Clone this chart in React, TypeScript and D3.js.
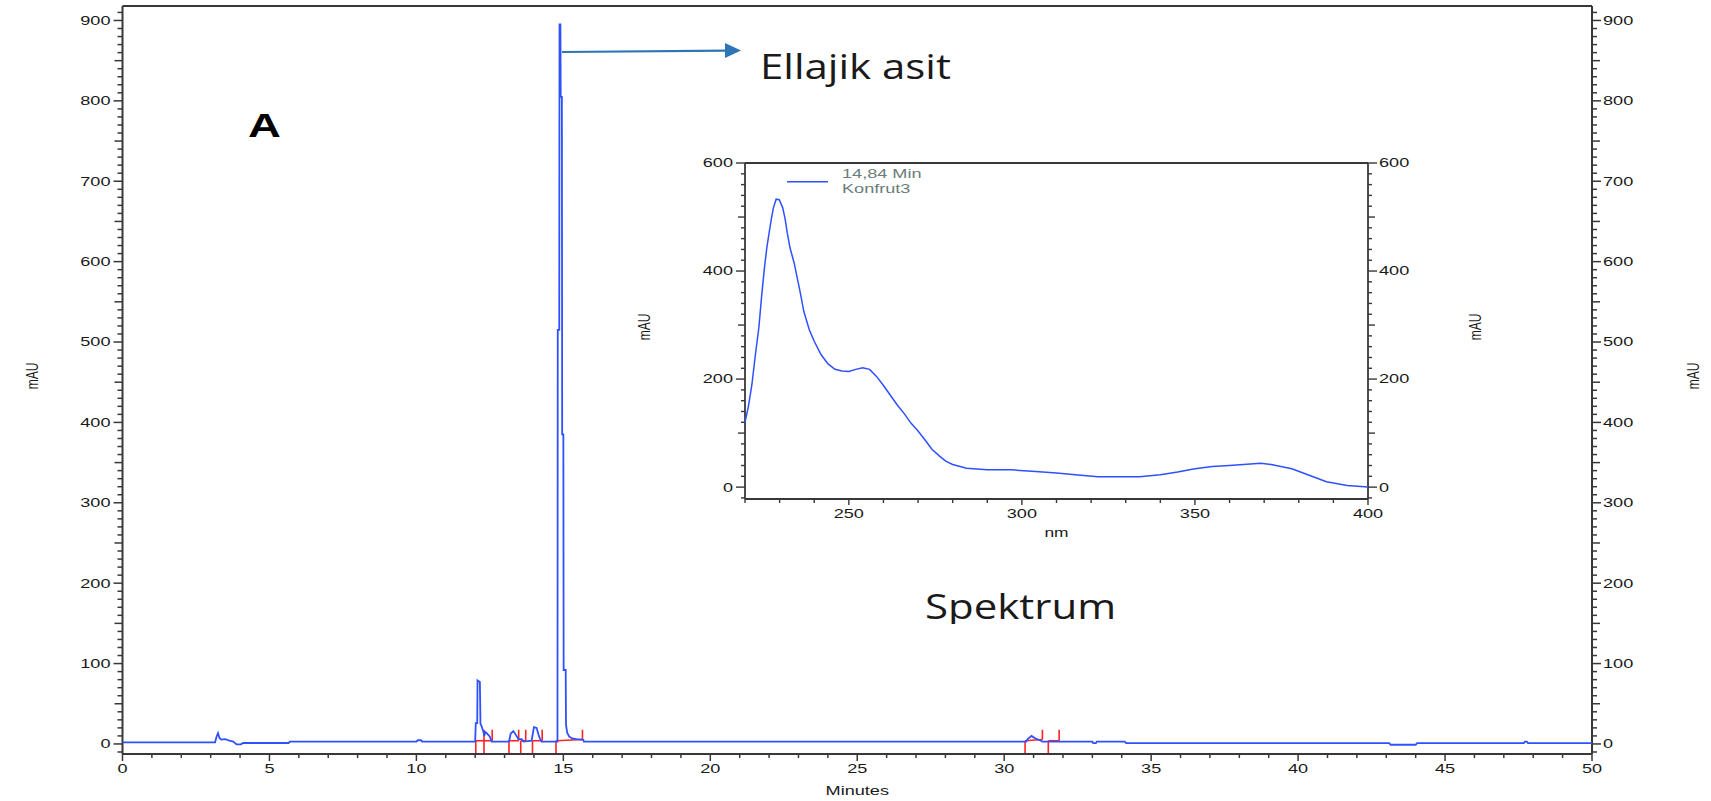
import React from "react";
import * as d3 from "d3";

// ---- Chromatogram (main) ----
const TIME = [0, 3.15, 3.2, 3.25, 3.3, 3.36, 3.5, 3.64, 3.77, 3.88, 4.03, 4.1, 5.65, 5.7, 10.0, 10.05, 10.15, 10.2,
  12.0, 12.02, 12.07, 12.08, 12.16, 12.18, 12.22, 12.28, 12.31, 12.34, 12.4, 12.5, 12.56,
  13.15, 13.21, 13.3, 13.39, 13.47, 13.58, 13.64, 13.92, 14.0, 14.09, 14.15, 14.2, 14.26,
  14.8, 14.81, 14.86, 14.87, 14.9, 14.91, 14.95, 14.96, 15.0, 15.01, 15.08, 15.09, 15.13, 15.2, 15.3, 15.45, 15.68, 15.7,
  30.75, 30.8, 30.93, 31.05, 31.25, 31.3, 33.0, 33.03, 33.12, 33.15, 34.1, 34.15, 43.1, 43.15, 44.0, 44.05,
  47.68, 47.72, 47.78, 47.82, 50];
const ABS = [2, 2, 9, 13.5, 7.5, 5.5, 6, 4, 3, -0.5, -0.5, 1.2, 1.2, 3, 3, 4.6, 4.6, 3,
  3, 26, 26, 79, 77, 25, 22, 15, 10, 15, 13, 9, 3,
  3, 13, 16, 11, 6, 6, 3, 4, 21, 20, 12, 7, 3,
  3, 515, 515, 895, 895, 805, 805, 385, 385, 92, 92, 24, 14, 9, 7, 6, 5, 3,
  3, 6, 10, 7, 4, 3, 3, 1, 1, 3, 3, 1, 1, -1, -1, 1,
  1, 3, 3, 1, 1];

// integration segments [start, end] (minutes)
const INT_START = [12.02, 12.3, 13.15, 13.55, 13.95, 14.75, 30.71, 31.5];
const INT_END = [12.3, 12.58, 13.48, 13.72, 14.28, 15.65, 31.3, 31.87];

const MAIN_Y_LABELS = [0, 100, 200, 300, 400, 500, 600, 700, 800, 900];
const MAIN_X_LABELS = [0, 5, 10, 15, 20, 25, 30, 35, 40, 45, 50];

// ---- Spectrum (inset) ----
const NM = [220, 221, 222, 223, 224, 224.8, 225.6, 226.3, 227, 227.6, 228.2, 229, 229.9, 230.9, 231.6, 232.2, 233,
  234.2, 235, 236, 237, 238.6, 240, 242, 244, 246, 248, 250, 252, 254, 256, 258, 260, 262, 264, 266, 268, 270,
  272.3, 274, 276.3, 278, 280, 284, 290, 297, 304, 310, 317, 322, 334, 340, 345, 350, 355, 360, 366, 369, 372,
  378, 383, 388, 394, 400];
const SPEC = [120, 150, 190, 245, 295, 353, 405, 443, 472, 496, 517, 533, 532, 517, 496, 471, 443,
  415, 390, 359, 325, 291, 270, 245, 228, 218, 215, 214, 218, 221, 218, 205, 188, 170, 152, 136, 118, 104,
  85, 70, 57, 48, 42, 35, 32, 32, 29, 26, 22, 19, 19, 23, 28, 34, 38, 40, 43, 44, 42,
  34, 22, 10, 3, 0];
const INSET_Y_LABELS = [0, 200, 400, 600];
const INSET_X_LABELS = [250, 300, 350, 400];
const LEGEND_LINES = ["14,84 Min", "Konfrut3"];

const BLUE = "#2f50ff";
const RED = "#ff2222";
const AXIS = "#383838";
const FONT = "'Liberation Sans', Arial, sans-serif";
const SX = 1.45;

function T(props: any) {
  const { x, y, children, anchor = "start", size = 12.5, sx = SX, weight = "normal", fill = "#1a1a1a", rotate, family = FONT, base = "central" } = props;
  return (
    <text
      transform={`translate(${x},${y}) scale(${sx},1)${rotate ? ` rotate(${rotate})` : ""}`}
      textAnchor={anchor}
      fontSize={size}
      fontWeight={weight}
      fill={fill}
      fontFamily={family}
      dominantBaseline={base}
    >
      {children}
    </text>
  );
}

export default function App() {
  // main scales
  const x = d3.scaleLinear().domain([0, 50]).range([122.5, 1592]);
  const y = d3.scaleLinear().domain([-12.5, 918]).range([754, 6]);
  // inset scales
  const xi = d3.scaleLinear().domain([220, 400]).range([745, 1368]);
  const yi = d3.scaleLinear().domain([-22, 600]).range([499, 163]);

  const mainLine = d3.line<number>().x((d, i) => x(TIME[i])).y((d) => y(d));
  const specLine = d3.line<number>().x((d, i) => xi(NM[i])).y((d) => yi(d));

  const yMinor = d3.range(-10, 911, 10);
  const xMinor = d3.range(0, 51, 1);
  const iyMinor = d3.range(-20, 601, 20);
  const ixMinor = d3.range(220, 401, 10);

  const redBase = 4;
  const x0 = x.range()[0];
  const x1 = x.range()[1];
  const yTop = y.range()[1];
  const yBot = y.range()[0];

  return (
    <svg width={1711} height={801} style={{ position: "absolute", left: 0, top: 0, background: "#fff" }}>
      <defs>
        <clipPath id="spekClip">
          <rect x={800} y={560} width={400} height={64} />
        </clipPath>
      </defs>
      <rect x={0} y={0} width={1711} height={801} fill="#fff" />

      {/* main frame */}
      <line x1={x0} x2={x1} y1={yTop} y2={yTop} stroke={AXIS} strokeWidth={2} />
      <line x1={x0} x2={x0} y1={yTop} y2={yBot} stroke={AXIS} strokeWidth={2} />
      <line x1={x1} x2={x1} y1={yTop} y2={yBot} stroke={AXIS} strokeWidth={2} />
      <line x1={x0} x2={x1} y1={yBot} y2={yBot} stroke={AXIS} strokeWidth={2} />

      {/* main y ticks */}
      {yMinor.map((v) => {
        const len = v % 100 === 0 ? 9 : v % 50 === 0 ? 8 : 5;
        return (
          <g key={"ym" + v}>
            <line x1={x0 - len} x2={x0} y1={y(v)} y2={y(v)} stroke={AXIS} strokeWidth={1.5} />
            <line x1={x1} x2={x1 + len} y1={y(v)} y2={y(v)} stroke={AXIS} strokeWidth={1.5} />
          </g>
        );
      })}
      {MAIN_Y_LABELS.map((v) => (
        <g key={"yl" + v}>
          <T x={x0 - 12} y={y(v)} anchor="end">{v}</T>
          <T x={x1 + 11} y={y(v)} anchor="start">{v}</T>
        </g>
      ))}
      {/* main x ticks */}
      {xMinor.map((v) => (
        <line key={"xm" + v} x1={x(v)} x2={x(v)} y1={yBot} y2={yBot + (v % 5 === 0 ? 7 : 4)} stroke={AXIS} strokeWidth={1.5} />
      ))}
      {MAIN_X_LABELS.map((v) => (
        <T key={"xl" + v} x={x(v)} y={769} anchor="middle">{v}</T>
      ))}
      <T x={(x0 + x1) / 2} y={791} anchor="middle" size={12.5}>Minutes</T>
      <T x={32} y={376} anchor="middle" size={12} rotate={-90}>mAU</T>
      <T x={1693} y={376} anchor="middle" size={12} rotate={-90}>mAU</T>

      {/* integration markers */}
      {INT_START.map((s, i) => {
        const e = INT_END[i];
        return (
          <g key={"int" + i}>
            <line x1={x(s)} x2={x(e)} y1={y(redBase)} y2={y(redBase + (e - s > 0.5 ? 1.5 : 0))} stroke={RED} strokeWidth={1.6} />
            <line x1={x(s)} x2={x(s)} y1={y(redBase)} y2={yBot - 1} stroke={RED} strokeWidth={1.6} />
            <line x1={x(e)} x2={x(e)} y1={y(redBase + (e - s > 0.5 ? 1.5 : 0))} y2={y(redBase) - 11} stroke={RED} strokeWidth={1.6} />
          </g>
        );
      })}

      {/* chromatogram trace */}
      <path d={mainLine(ABS) || ""} fill="none" stroke={BLUE} strokeWidth={1.8} strokeLinejoin="miter" />

      {/* label A */}
      <T x={248} y={137} size={33} sx={1.38} weight="bold" fill="#000" base="auto">A</T>

      {/* arrow to peak */}
      <line x1={562} y1={52} x2={727} y2={50.6} stroke="#2e75b6" strokeWidth={2.2} />
      <polygon points="741,50.4 725,43 725,58" fill="#2e75b6" />
      <T x={760} y={79} size={35} sx={1.2} family="'Open Sans', sans-serif" base="auto">Ellajik asit</T>

      {/* inset frame */}
      <line x1={xi(220)} x2={xi(400)} y1={yi(600)} y2={yi(600)} stroke={AXIS} strokeWidth={1.8} />
      <line x1={xi(220)} x2={xi(220)} y1={yi(600)} y2={yi(-22)} stroke={AXIS} strokeWidth={1.8} />
      <line x1={xi(400)} x2={xi(400)} y1={yi(600)} y2={yi(-22)} stroke={AXIS} strokeWidth={1.8} />
      <line x1={xi(220)} x2={xi(400)} y1={yi(-22)} y2={yi(-22)} stroke={AXIS} strokeWidth={1.8} />
      {iyMinor.map((v) => {
        const len = v % 200 === 0 ? 9 : v % 100 === 0 ? 7 : 4;
        return (
          <g key={"iy" + v}>
            <line x1={xi(220) - len} x2={xi(220)} y1={yi(v)} y2={yi(v)} stroke={AXIS} strokeWidth={1.4} />
            <line x1={xi(400)} x2={xi(400) + len} y1={yi(v)} y2={yi(v)} stroke={AXIS} strokeWidth={1.4} />
          </g>
        );
      })}
      {INSET_Y_LABELS.map((v) => (
        <g key={"iyl" + v}>
          <T x={xi(220) - 12} y={yi(v)} anchor="end">{v}</T>
          <T x={xi(400) + 11} y={yi(v)} anchor="start">{v}</T>
        </g>
      ))}
      {ixMinor.map((v) => (
        <line key={"ix" + v} x1={xi(v)} x2={xi(v)} y1={yi(-22)} y2={yi(-22) + (v % 50 === 0 ? 6 : 4)} stroke={AXIS} strokeWidth={1.4} />
      ))}
      {INSET_X_LABELS.map((v) => (
        <T key={"ixl" + v} x={xi(v)} y={514} anchor="middle">{v}</T>
      ))}
      <T x={(xi(220) + xi(400)) / 2} y={533} anchor="middle" size={12}>nm</T>
      <T x={644} y={327} anchor="middle" size={12} rotate={-90}>mAU</T>
      <T x={1475} y={327} anchor="middle" size={12} rotate={-90}>mAU</T>

      {/* legend */}
      <line x1={787} x2={828} y1={181.7} y2={181.7} stroke={BLUE} strokeWidth={1.6} />
      {LEGEND_LINES.map((s, i) => (
        <T key={"lg" + i} x={842} y={173.5 + i * 15.5} size={12.5} fill="#6a7d7a">{s}</T>
      ))}

      {/* spectrum */}
      <path d={specLine(SPEC) || ""} fill="none" stroke={BLUE} strokeWidth={1.5} />

      {/* Spektrum caption (clipped at bottom) */}
      <g clipPath="url(#spekClip)">
        <T x={925} y={619} size={35} sx={1.2} family="'Open Sans', sans-serif" base="auto">Spektrum</T>
      </g>
    </svg>
  );
}
